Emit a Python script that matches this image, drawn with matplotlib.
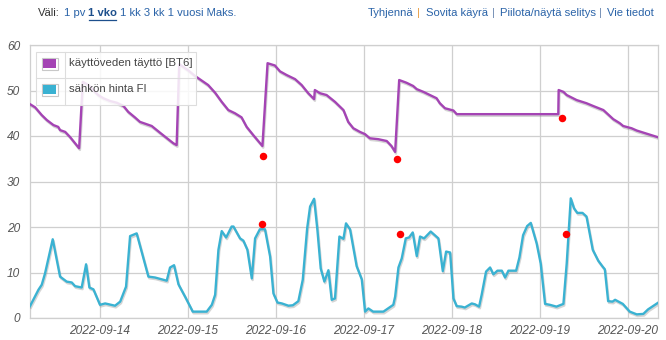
import matplotlib
matplotlib.use("Agg")
import matplotlib.pyplot as plt
from matplotlib.patches import Rectangle
from matplotlib.lines import Line2D
import matplotlib.patheffects as pe

# ---------------- data (x = hours since 2022-09-13 00:00) ----------------
tank_hours = [4.9, 6.3, 8.1, 9.5, 11.3, 12.6, 13.1, 14.5, 15.8, 17.2, 18.3, 19.3, 20.8, 23.5,
              24.9, 26.7, 28.6, 30.4, 31.7, 33.5, 34.9, 38.1, 40.4, 44.0, 44.9, 45.6, 48.1,
              49.9, 51.7, 53.5, 55.4, 57.2, 59.0, 60.8, 62.6, 64.0, 65.8, 68.3, 69.7, 71.7,
              73.1, 74.9, 77.2, 79.0, 80.8, 82.4, 82.6, 84.0, 85.8, 88.1, 90.4, 91.7, 93.1,
              94.9, 96.3, 97.6, 99.9, 102.2, 103.5, 104.5, 105.6, 107.6, 109.4, 110.4, 112.2,
              114.0, 115.8, 116.7, 118.1, 120.4, 121.3, 149.0, 149.1, 150.4, 151.3, 154.0,
              156.7, 158.5, 161.3, 164.0, 165.8, 166.7, 169.0, 170.4, 176.3]
tank_values = [47.0, 46.3, 44.6, 43.5, 42.4, 42.0, 41.3, 40.9, 39.8, 38.4, 37.3, 51.9, 51.2, 49.0,
               48.3, 47.7, 47.3, 46.6, 45.3, 44.1, 43.1, 42.2, 40.7, 38.4, 38.0, 55.8, 54.4,
               53.2, 52.2, 51.2, 49.5, 47.5, 45.7, 45.0, 44.1, 42.0, 40.2, 37.8, 56.0, 55.5,
               54.2, 53.4, 52.5, 51.2, 49.4, 48.1, 50.1, 49.4, 49.0, 47.5, 45.7, 43.1, 41.7,
               40.9, 40.4, 39.5, 39.3, 38.9, 37.8, 36.5, 52.3, 51.7, 51.0, 50.3, 49.7,
               49.0, 48.3, 47.2, 46.1, 45.6, 44.8, 44.8, 50.1, 49.7, 49.0, 47.9,
               47.2, 46.6, 45.7, 43.7, 42.8, 42.2, 41.7, 41.2, 39.7]

price_hours = [4.9, 7.2, 8.1, 9.0, 11.1, 13.1, 14.9, 16.3, 17.2, 19.0, 20.2, 21.1, 22.2, 24.0,
               25.4, 28.1, 29.5, 31.1, 32.2, 34.0, 37.2, 39.0, 42.2, 43.1, 44.2, 45.4, 47.2,
               49.3, 53.1, 54.5, 55.4, 56.3, 57.2, 58.4, 59.9, 60.4, 62.2, 63.1, 64.2, 65.4,
               66.3, 67.6, 69.0, 70.4, 71.3, 72.4, 73.6, 75.4, 76.6, 78.1, 79.3, 80.5, 81.3,
               82.4, 83.3, 84.2, 85.2, 86.3, 87.2, 88.1, 89.3, 90.4, 91.1, 92.2, 94.0, 95.4,
               96.3, 97.2, 98.5, 101.3, 104.0, 104.5, 105.4, 106.3, 107.4, 108.3, 109.3, 110.4,
               111.3, 112.4, 114.2, 116.3, 117.5, 118.4, 119.5, 120.4, 121.3, 122.6, 123.5,
               125.4, 126.3, 127.4, 128.1, 129.3, 130.4, 131.3, 132.4, 133.6, 134.5, 135.4,
               137.5, 138.4, 139.4, 140.5, 141.5, 143.1, 144.2, 145.4, 146.7, 148.5, 150.4,
               151.3, 152.4, 153.3, 154.2, 155.6, 156.7, 158.4, 159.9, 161.1, 161.7, 162.6,
               163.8, 164.5, 166.6, 168.5, 170.4, 172.2, 173.5, 176.3]
price_values = [2.6, 6.2, 7.3, 9.8, 17.3, 9.1, 8.0, 7.8, 7.0, 6.7, 11.8, 6.7, 6.3, 2.9,
                3.2, 2.7, 3.6, 6.9, 18.0, 18.6, 9.1, 8.9, 8.2, 11.1, 11.6, 7.4, 4.7,
                1.4, 1.4, 2.9, 5.1, 15.0, 19.1, 17.7, 20.1, 20.1, 17.5, 17.0, 15.0, 8.7,
                17.5, 19.5, 19.5, 13.5, 5.4, 3.4, 3.2, 2.7, 2.8, 3.7, 8.4, 19.7, 24.5,
                26.2, 19.3, 10.9, 8.0, 10.5, 4.0, 4.3, 17.9, 17.4, 20.8, 19.5, 11.4, 8.5,
                1.4, 2.1, 1.4, 1.4, 2.9, 4.7, 11.1, 13.1, 17.5, 17.7, 18.8, 13.6,
                17.9, 17.5, 19.0, 17.5, 10.3, 14.6, 14.4, 4.3, 2.6, 2.5, 2.3,
                3.2, 3.0, 2.5, 5.1, 10.2, 11.1, 9.6, 10.4, 10.4, 8.9, 10.4,
                10.4, 13.3, 18.2, 20.2, 20.9, 16.4, 12.0, 3.1, 2.9, 2.5, 3.1,
                12.0, 26.3, 24.1, 23.1, 23.1, 22.3, 15.0, 12.6, 11.3, 10.7, 3.7,
                3.6, 4.0, 3.1, 1.4, 0.8, 0.9, 1.9, 3.4]

tank_mark_hours = [68.5, 105.1, 149.9]
tank_mark_values = [35.7, 34.9, 43.9]
price_mark_hours = [68.3, 105.8, 151.1]
price_mark_values = [20.7, 18.4, 18.4]

day_ticks = [24, 48, 72, 96, 120, 144, 168]
day_labels = ["2022-09-14", "2022-09-15", "2022-09-16", "2022-09-17",
              "2022-09-18", "2022-09-19", "2022-09-20"]
y_ticks = [0, 10, 20, 30, 40, 50, 60]
series_names = ["käyttöveden täyttö [BT6]", "sähkön hinta FI"]

# ---------------- style ----------------
FONT = "Liberation Sans"
PURPLE = "#a444b4"
BLUE = "#3ab2d2"
W, H = 666, 340
HS = 8.1  # header font size

fig = plt.figure(figsize=(W / 100, H / 100), dpi=100)
fig.patch.set_facecolor("white")
ax = fig.add_axes([30 / W, (H - 318) / H, 628 / W, 273 / H])

shadow = [pe.SimpleLineShadow(offset=(0.6, -1.2), shadow_color="#888888", alpha=0.35), pe.Normal()]
ax.plot(tank_hours, tank_values, color=PURPLE, lw=1.7, zorder=3, path_effects=shadow,
        solid_joinstyle="round")
ax.plot(price_hours, price_values, color=BLUE, lw=1.7, zorder=3, path_effects=shadow,
        solid_joinstyle="round")
ax.plot(tank_mark_hours, tank_mark_values, "o", color="#ff0000", ms=5.4, zorder=4, mew=0)
ax.plot(price_mark_hours, price_mark_values, "o", color="#ff0000", ms=5.4, zorder=4, mew=0)

ax.set_xlim(4.9, 176.2)
ax.set_ylim(0, 60)
ax.set_xticks(day_ticks)
ax.set_xticklabels(day_labels)
ax.set_yticks(y_ticks)
ax.grid(True, color="#cfcfcf", lw=0.9)
ax.set_axisbelow(True)
for s in ax.spines.values():
    s.set_color("#cfcfcf")
    s.set_linewidth(0.9)
ax.tick_params(length=0, labelcolor="#555555", labelsize=8.6)
ax.tick_params(axis="y", pad=7)
ax.tick_params(axis="x", pad=5)
for lab in ax.get_xticklabels() + ax.get_yticklabels():
    lab.set_fontstyle("italic")
    lab.set_fontfamily(FONT)

# ---------------- legend (drawn in pixel coordinates) ----------------
def fx(px):
    return px / W

def fy(py):
    return 1 - py / H

fig.add_artist(Rectangle((fx(36), fy(104.5)), (196 - 36) / W, (104.5 - 52) / H,
                         transform=fig.transFigure, facecolor=(1, 1, 1, 0.85),
                         edgecolor="#dddddd", lw=0.8, zorder=5))
fig.add_artist(Line2D([fx(36), fx(196)], [fy(78), fy(78)], transform=fig.transFigure,
                      color="#dddddd", lw=0.8, zorder=6))
fig.add_artist(Line2D([fx(64.5), fx(64.5)], [fy(52), fy(104.5)], transform=fig.transFigure,
                      color="#dddddd", lw=0.8, zorder=6))
for i, (name, col) in enumerate(zip(series_names, [PURPLE, BLUE])):
    top = 57.5 + i * 26
    fig.add_artist(Rectangle((fx(41.5), fy(top + 12)), 16 / W, 12 / H,
                             transform=fig.transFigure, facecolor="white",
                             edgecolor="#c8c8c8", lw=0.8, zorder=6))
    fig.add_artist(Rectangle((fx(43), fy(top + 10.5)), 13 / W, 9 / H,
                             transform=fig.transFigure, facecolor=col,
                             edgecolor="none", zorder=7))
    fig.text(fx(69), fy(top + 6), name, fontsize=8.2, color="#444444", family=FONT,
             va="center", ha="left", zorder=7)

# ---------------- header ----------------
LINK = "#2a63a8"
ty = fy(13)
fig.text(fx(38), ty, "Väli:", fontsize=HS, color="#333333", family=FONT, va="center")
fig.text(fx(64), ty, "1 pv", fontsize=HS, color=LINK, family=FONT, va="center")
fig.text(fx(88.5), ty, "1 vko", fontsize=HS, color="#1d4f8c", family=FONT, va="center",
         fontweight="bold")
fig.add_artist(Line2D([fx(88.5), fx(116)], [fy(19.5), fy(19.5)], transform=fig.transFigure,
                      color="#1d4f8c", lw=0.9))
fig.text(fx(120), ty, "1 kk 3 kk 1 vuosi Maks.", fontsize=HS, color=LINK, family=FONT,
         va="center")

fig.text(fx(368), ty, "Tyhjennä", fontsize=HS, color=LINK, family=FONT, va="center")
fig.text(fx(417), ty, "|", fontsize=HS, color="#e89a3c", family=FONT, va="center")
fig.text(fx(426), ty, "Sovita käyrä", fontsize=HS, color=LINK, family=FONT, va="center")
fig.text(fx(491.5), ty, "|", fontsize=HS, color="#6a86b0", family=FONT, va="center")
fig.text(fx(500), ty, "Piilota/näytä selitys", fontsize=HS, color=LINK, family=FONT,
         va="center")
fig.text(fx(599.5), ty, "|", fontsize=HS, color="#6a86b0", family=FONT, va="center")
fig.text(fx(607), ty, "Vie tiedot", fontsize=HS, color=LINK, family=FONT, va="center")

fig.savefig("out.png", dpi=100, facecolor="white")
